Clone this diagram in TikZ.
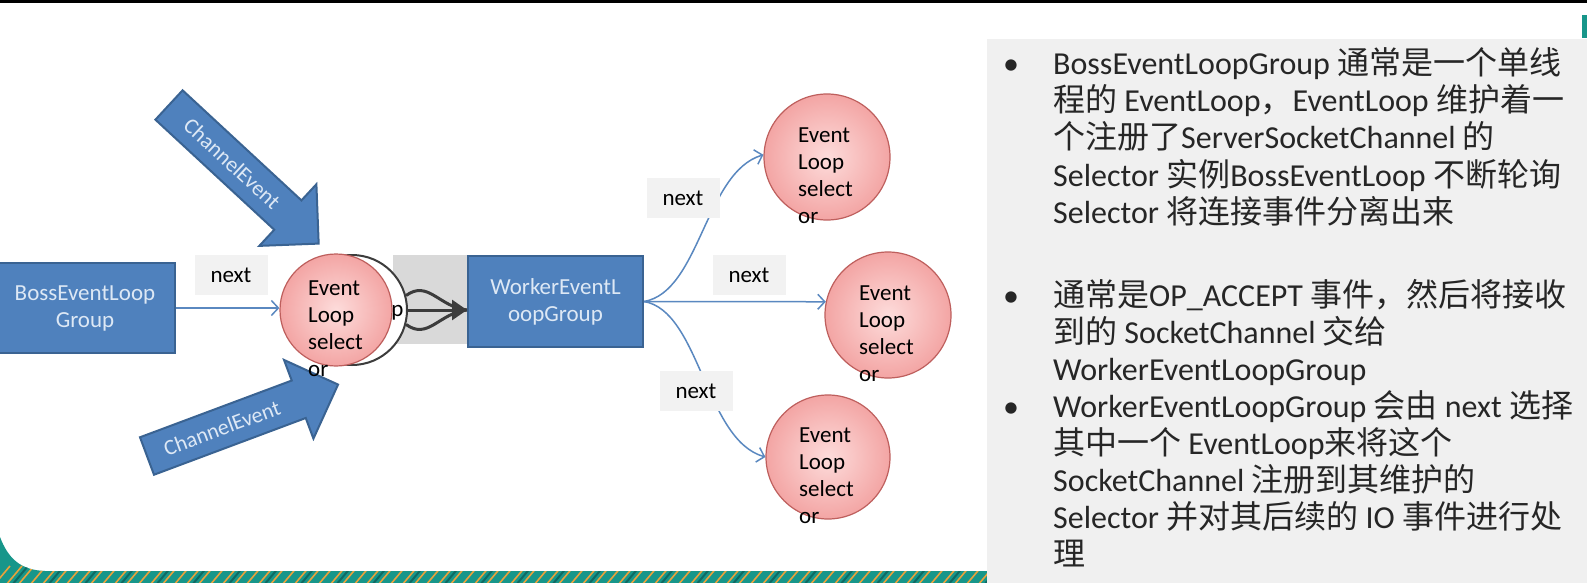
\documentclass[tikz,border=0pt]{standalone}
\usepackage{fontspec}
\setmainfont{Carlito}
\newfontfamily\cjkfont{Noto Sans CJK SC}
\usetikzlibrary{arrows.meta}

\newcommand\zhs[1]{{\cjkfont #1}}
\newcommand\diagfont{\fontsize{23}{27}\selectfont}
\newcommand\arrowfont{\fontsize{22}{24}\selectfont}
\newcommand\panelfont{\fontsize{32}{37}\selectfont}

\definecolor{boxblue}{HTML}{4F81BD}
\definecolor{boxedge}{HTML}{3A6392}
\definecolor{boxtext}{HTML}{DDE8F5}
\definecolor{circin}{HTML}{FDDCDB}
\definecolor{circout}{HTML}{F3A5A4}
\definecolor{circedge}{HTML}{BE5F5D}
\definecolor{labelgrey}{HTML}{F2F2F2}
\definecolor{connblue}{HTML}{5A88C0}
\definecolor{darkgrey}{HTML}{3C3C3C}
\definecolor{shadegrey}{HTML}{D9D9D9}
\definecolor{panelgrey}{HTML}{F0F0F0}
\definecolor{paneltextc}{HTML}{262626}
\definecolor{stripeteal}{HTML}{17968A}
\definecolor{stripeorange}{HTML}{E9A23B}

\tikzset{
  groupbox/.style={draw=boxedge, line width=2pt, fill=boxblue, text=boxtext,
    font=\diagfont, align=center, inner sep=0},
  loopcirc/.style={circle, draw=circedge, line width=1.2pt, shade, shading=radial,
    inner color=circin, outer color=circout, minimum size=#1, inner sep=0},
  looptext/.style={anchor=north west, align=left, inner sep=0, font=\diagfont, text=black},
  nextlabel/.style={fill=labelgrey, minimum width=73pt, minimum height=40pt,
    inner sep=0, font=\diagfont},
  conn/.style={draw=connblue, line width=1.5pt, -{Straight Barb[length=7pt,width=15pt]}},
  darkconn/.style={draw=darkgrey, line width=3pt},
  bigarrow/.style={draw=boxedge, line width=2pt, fill=boxblue},
  arrowtext/.style={text=boxtext, font=\arrowfont, inner sep=0},
  paneltext/.style={anchor=base west, inner sep=0, font=\panelfont, text=paneltextc},
}

\begin{document}
\begin{tikzpicture}[x=1pt, y=-1pt]
  % page
  \fill[white] (0,0) rectangle (1587,583);
  \useasboundingbox (0,0) rectangle (1587,583);

  % decorative bottom band with its rounded left corner
  \fill[stripeteal] (0,537) .. controls (8,558) and (20,570) .. (45,571)
    -- (990,571) -- (990,583) -- (0,583) -- cycle;
  \begin{scope}
    \clip (0,537) .. controls (8,558) and (20,570) .. (45,571)
      -- (990,571) -- (990,583) -- (0,583) -- cycle;
    \foreach \i in {-30,-18,...,1000}
      \draw[stripeorange, line width=1.6pt] (\i,585) -- (\i+16,566);
    \foreach \i in {-24,12,...,1000}
      \draw[stripeteal!70!black, line width=2pt] (\i,585) -- (\i+16,566);
  \end{scope}

  % top rule and corner mark
  \fill[black] (0,0) rectangle (1587,3);
  \fill[stripeteal] (1582,15) rectangle (1587,38);

  % text panel
  \fill[panelgrey] (987,39) rectangle (1587,583);

  % grey backdrop behind the hand-over arrows
  \fill[shadegrey] (393,255) rectangle (468,344);

  % incoming channel events
  \begin{scope}[shift={(169,105)}, rotate=-42.8]
    \draw[bigarrow] (0,-20) -- (162,-20) -- (162,-42) -- (204,0)
      -- (162,42) -- (162,20) -- (0,20) -- cycle;
    \node[arrowtext, rotate=-42.8] (evtop) at (86,0) {ChannelEvent};
  \end{scope}
  \begin{scope}[shift={(147,456)}, rotate=20.5]
    \draw[bigarrow] (0,-20) -- (162,-20) -- (162,-42) -- (204,0)
      -- (162,42) -- (162,20) -- (0,20) -- cycle;
    \node[arrowtext, rotate=20.5] (evbot) at (80,0) {ChannelEvent};
  \end{scope}

  % boss group
  \node[groupbox, minimum width=180pt, minimum height=90pt] (boss) at (85,308)
    {BossEventLoop\\Group};

  % second loop partly hidden behind the boss loop
  \node[circle, draw=darkgrey, line width=2pt, fill=white, minimum size=110pt,
    inner sep=0] (hc) at (352,310) {};
  \node[font=\diagfont, inner sep=0] (hcp) at (397.5,313) {p};

  % worker group
  \node[groupbox, minimum width=175pt, minimum height=91pt] (wk) at (555.5,301.5)
    {WorkerEventL\\oopGroup};

  % hand-over arrows
  \coordinate (hand) at (wk.west |- hc.east);
  \draw[darkconn] (hc.15) .. controls +(22,-16) and +(-28,-3) .. (hand);
  \draw[darkconn] (hc.-15) .. controls +(22,16) and +(-28,3) .. (hand);
  \draw[darkconn, -{Triangle[length=15pt,width=20pt]}] (hc.east) -- (hand);

  % boss loop
  \node[loopcirc=112pt] (ce) at (336,310) {};
  \node[looptext] (cet) at (308,281) {Event\\Loop\\select\\or};

  % boss group to its loop
  \node[nextlabel] (n0) at (231,275) {next};
  \draw[conn] (boss.east) -- (boss.east -| ce.west);

  % worker loops
  \node[loopcirc=126pt] (c1) at (827,157) {};
  \node[loopcirc=126pt] (c2) at (888,315) {};
  \node[loopcirc=124pt] (c3) at (828,457) {};

  \draw[conn] (wk.east) .. controls (700,292) and (705,172) .. (c1.178);
  \draw[conn] (wk.east) -- (c2.168);
  \draw[conn] (wk.east) .. controls (700,311) and (705,440) .. (c3.west);

  \node[nextlabel] (n1) at (683,198) {next};
  \node[nextlabel] (n2) at (749,275) {next};
  \node[nextlabel] (n3) at (696,391) {next};

  \node[looptext] (c1t) at (798,128) {Event\\Loop\\select\\or};
  \node[looptext] (c2t) at (859,286) {Event\\Loop\\select\\or};
  \node[looptext] (c3t) at (799,428) {Event\\Loop\\select\\or};

  % explanation
  \node[paneltext] (b1) at (1003,75) {\textbullet};
  \node[paneltext] (t11) at (1053,75) {BossEventLoopGroup \zhs{通常是一个单线}};
  \node[paneltext] (t12) at (1053,112) {\zhs{程的} EventLoop\zhs{，}EventLoop \zhs{维护着一}};
  \node[paneltext] (t13) at (1053,149) {\zhs{个注册了}ServerSocketChannel \zhs{的}};
  \node[paneltext] (t14) at (1053,186) {Selector \zhs{实例}BossEventLoop \zhs{不断轮询}};
  \node[paneltext] (t15) at (1053,223) {Selector \zhs{将连接事件分离出来}};

  \node[paneltext] (b2) at (1003,306) {\textbullet};
  \node[paneltext] (t21) at (1053,306) {\zhs{通常是}OP\_ACCEPT \zhs{事件，然后将接收}};
  \node[paneltext] (t22) at (1053,343) {\zhs{到的} SocketChannel \zhs{交给}};
  \node[paneltext] (t23) at (1053,380) {WorkerEventLoopGroup};

  \node[paneltext] (b3) at (1003,417) {\textbullet};
  \node[paneltext] (t31) at (1053,417) {WorkerEventLoopGroup \zhs{会由} next \zhs{选择}};
  \node[paneltext] (t32) at (1053,454) {\zhs{其中一个} EventLoop\zhs{来将这个}};
  \node[paneltext] (t33) at (1053,491) {SocketChannel \zhs{注册到其维护的}};
  \node[paneltext] (t34) at (1053,528) {Selector \zhs{并对其后续的} IO \zhs{事件进行处}};
  \node[paneltext] (t35) at (1053,565) {\zhs{理}};
\end{tikzpicture}
\end{document}
